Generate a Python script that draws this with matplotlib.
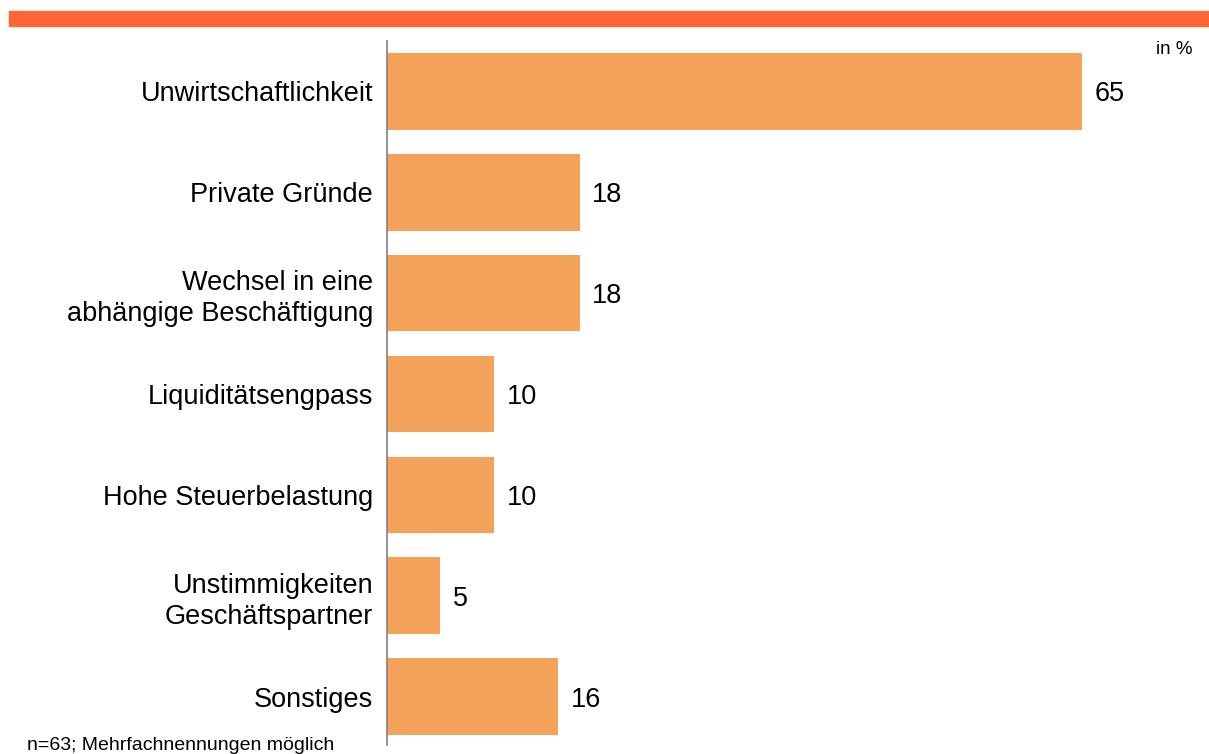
import matplotlib.pyplot as plt
from matplotlib.patches import Rectangle

plt.rcParams['font.family'] = ['Liberation Sans', 'DejaVu Sans']

categories = [
    "Unwirtschaftlichkeit",
    "Private Gründe",
    "Wechsel in eine\nabhängige Beschäftigung",
    "Liquiditätsengpass",
    "Hohe Steuerbelastung",
    "Unstimmigkeiten\nGeschäftspartner",
    "Sonstiges",
]
values = [65, 18, 18, 10, 10, 5, 16]

bar_color = "#F4A259"
band_color = "#FF6633"

W, H = 1209, 754
fig = plt.figure(figsize=(W / 100, H / 100), dpi=100)

# orange band at the top
fig.patches.append(Rectangle((9 / W, 1 - 26 / H), 1 - 9 / W, 15 / H,
                             transform=fig.transFigure, color=band_color, zorder=0))

ax = fig.add_axes([387 / W, 1 - 745 / H, (1203 - 387) / W, (745 - 41) / H])
pos = list(range(len(categories)))
ax.barh(pos, values, height=0.76, color=bar_color)
ax.set_xlim(0, 76.3)
ax.set_ylim(6.48, -0.5)

for p, v in zip(pos, values):
    ax.text(v + 1.2, p, str(v), va="center_baseline", ha="left", fontsize=19.5)

ax.set_yticks(pos)
ax.set_yticklabels(categories, fontsize=19.5, ha="right", linespacing=1.25)
ax.tick_params(axis="y", length=0, pad=10)
ax.set_xticks([])
for s in ["top", "right", "bottom"]:
    ax.spines[s].set_visible(False)
ax.spines["left"].set_color("#808080")
ax.spines["left"].set_linewidth(1.2)

fig.text(1193 / W, 1 - 50 / H, "in %", ha="right", va="center", fontsize=13.5)
fig.text(27 / W, 1 - 745 / H, "n=63; Mehrfachnennungen möglich", ha="left", va="center", fontsize=14)

fig.savefig("out.png", dpi=100)
